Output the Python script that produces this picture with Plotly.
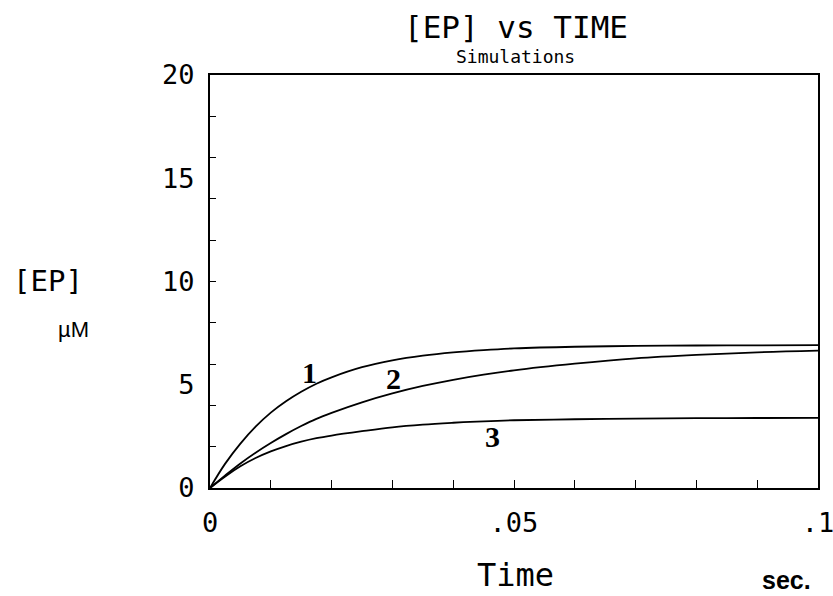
import plotly.graph_objects as go

# Time (sec.)
time_s = [0, 0.0025, 0.005, 0.0075, 0.01, 0.0125, 0.015, 0.0175, 0.02, 0.025,
          0.03, 0.035, 0.04, 0.045, 0.05, 0.06, 0.07, 0.08, 0.09, 0.1]
# [EP] (uM)
ep_curve1 = [0, 1.18, 2.15, 2.97, 3.65, 4.20, 4.66, 5.05, 5.36, 5.85,
             6.18, 6.41, 6.57, 6.68, 6.76, 6.84, 6.88, 6.90, 6.91, 6.92]
ep_curve2 = [0, 0.61, 1.19, 1.71, 2.18, 2.61, 3.00, 3.35, 3.64, 4.15,
             4.58, 4.94, 5.24, 5.49, 5.70, 6.02, 6.28, 6.45, 6.57, 6.65]
ep_curve3 = [0, 0.56, 1.05, 1.45, 1.77, 2.03, 2.24, 2.41, 2.54, 2.75,
             2.94, 3.07, 3.16, 3.23, 3.28, 3.33, 3.36, 3.38, 3.39, 3.40]
curve_labels = ["1", "2", "3"]

x_label_vals = [0, 0.05, 0.1]
x_label_text = ["0", ".05", ".1"]
x_minor_ticks = [0.01, 0.02, 0.03, 0.04, 0.05, 0.06, 0.07, 0.08, 0.09]
y_label_vals = [0, 5, 10, 15, 20]
y_label_text = ["0", "5", "10", "15", "20"]
y_minor_ticks = [2, 4, 6, 8, 10, 12, 14, 16, 18]

MONO = "DejaVu Sans Mono"
SANS = "Liberation Sans"

fig = go.Figure()
for ys in (ep_curve1, ep_curve2, ep_curve3):
    fig.add_trace(go.Scatter(x=time_s, y=ys, mode="lines",
                             line=dict(color="black", width=1.8, shape="spline"),
                             showlegend=False, hoverinfo="skip"))
# invisible trace to anchor overlay axes (tick marks only)
fig.add_trace(go.Scatter(x=[0], y=[0], xaxis="x2", yaxis="y2", mode="markers",
                         marker=dict(opacity=0), showlegend=False, hoverinfo="skip"))

label_pos = [(0.0164, 5.57), (0.0301, 5.28), (0.0465, 2.47)]
for txt, (lx, ly) in zip(curve_labels, label_pos):
    fig.add_annotation(x=lx, y=ly, text="<b>" + txt + "</b>", showarrow=False,
                       font=dict(family="Liberation Serif", size=30, color="black"))

fig.update_layout(
    width=833, height=596,
    margin=dict(l=210, r=15, t=75, b=108, autoexpand=False),
    paper_bgcolor="white", plot_bgcolor="white",
    xaxis=dict(range=[0, 0.1], tickvals=x_label_vals, ticktext=x_label_text, ticks="",
               showgrid=False, zeroline=False, showline=True, linecolor="black", linewidth=2,
               mirror=True, ticklabelstandoff=10, automargin=False, ticklabeloverflow="allow",
               tickfont=dict(family=MONO, size=27, color="black")),
    yaxis=dict(range=[0, 20], tickvals=y_label_vals, ticktext=y_label_text, ticks="",
               showgrid=False, zeroline=False, showline=True, linecolor="black", linewidth=2,
               mirror=True, ticklabelstandoff=8, automargin=False, ticklabeloverflow="allow",
               tickfont=dict(family=MONO, size=27, color="black")),
    xaxis2=dict(range=[0, 0.1], overlaying="x", tickvals=x_minor_ticks, ticks="inside",
                ticklen=8, tickwidth=1.2, tickcolor="black", showticklabels=False,
                showgrid=False, zeroline=False, showline=False, automargin=False),
    yaxis2=dict(range=[0, 20], overlaying="y", tickvals=y_minor_ticks, ticks="inside",
                ticklen=6, tickwidth=1.2, tickcolor="black", showticklabels=False,
                showgrid=False, zeroline=False, showline=False, automargin=False),
)

texts = [
    ("[EP] vs TIME", 0.503, 1.116, 31, MONO),
    ("Simulations", 0.502, 1.0436, 18, MONO),
    ("Time", 0.503, -0.211, 32, MONO),
    ("<b>sec.</b>", 0.949, -0.223, 25, SANS),
    ("[EP]", -0.266, 0.501, 29, MONO),
    ("µM", -0.224, 0.383, 22, SANS),
]
for t, x, y, s, fam in texts:
    fig.add_annotation(x=x, y=y, xref="paper", yref="paper", text=t, showarrow=False,
                       xanchor="center", yanchor="middle",
                       font=dict(family=fam, size=s, color="black"))

fig.write_html("out.html")
